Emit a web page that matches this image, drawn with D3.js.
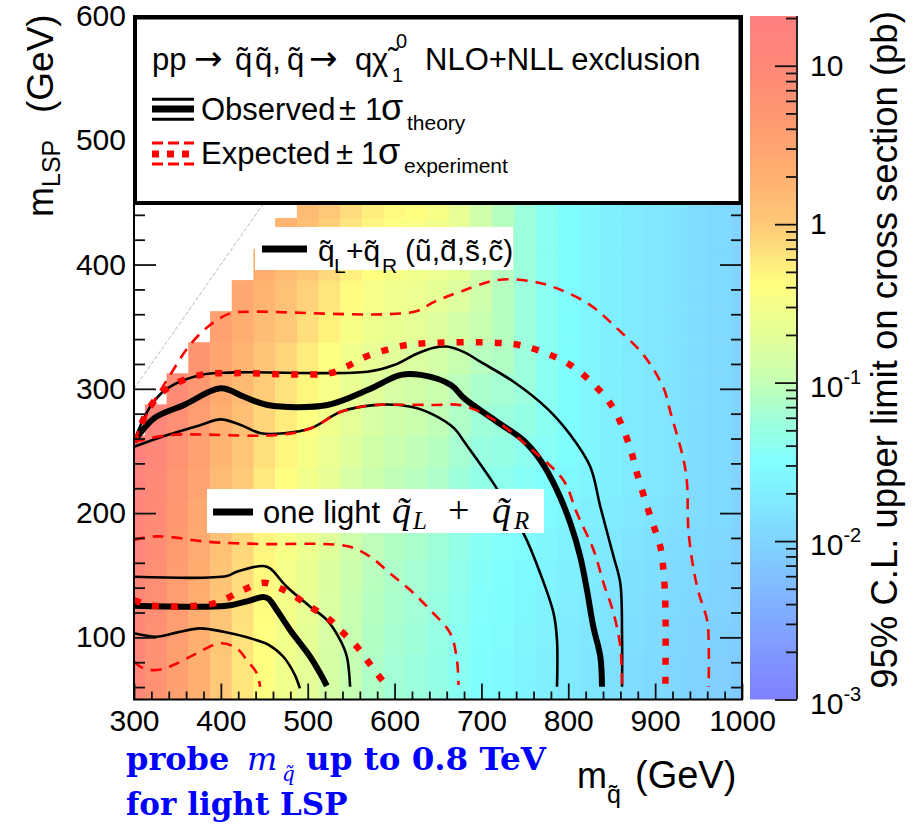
<!DOCTYPE html>
<html><head><meta charset="utf-8">
<script src="https://cdn.jsdelivr.net/npm/d3@7"></script>
<style>
body{margin:0;background:#fff;}
svg{display:block;}
</style></head><body>
<svg id="c" width="914" height="829" font-family="Liberation Sans, Arial, Helvetica, sans-serif"></svg>
<script>
// ---------------- DATA ----------------
const mSquark = [300,325,350,375,400,425,450,475,500,525,550,575,600,625,650,675,700,725,750,775,800,825,850,875,900,925,950,975,1000];
const mLSPRows = [50,75,100,125,150,175,200,225,250,275,300,325,350,375,400,425,450];
// log10 of 95% CL upper limit on cross section (pb), one row per mLSP
const log10Limit = [
 [1.0,0.8,0.55,0.3,0.0,-0.2,-0.4,-0.55,-0.7,-0.85,-1.0,-1.12,-1.2,-1.25,-1.32,-1.42,-1.52,-1.56,-1.62,-1.68,-1.74,-1.8,-1.85,-1.9,-1.94,-1.98,-2.02,-2.06,-2.1],
 [0.99,0.8,0.56,0.3,0.01,-0.2,-0.39,-0.55,-0.7,-0.84,-0.99,-1.12,-1.2,-1.26,-1.33,-1.42,-1.51,-1.56,-1.62,-1.68,-1.74,-1.8,-1.85,-1.9,-1.94,-1.98,-2.02,-2.06,-2.1],
 [1.02,0.82,0.57,0.32,0.02,-0.18,-0.38,-0.53,-0.68,-0.83,-0.98,-1.1,-1.18,-1.23,-1.3,-1.4,-1.5,-1.54,-1.6,-1.66,-1.72,-1.78,-1.83,-1.88,-1.92,-1.96,-2.0,-2.04,-2.08],
 [1.04,0.84,0.59,0.34,0.04,-0.16,-0.36,-0.51,-0.66,-0.81,-0.96,-1.08,-1.16,-1.21,-1.28,-1.38,-1.48,-1.52,-1.58,-1.64,-1.7,-1.76,-1.81,-1.86,-1.9,-1.94,-1.98,-2.02,-2.06],
 [1.06,0.86,0.61,0.36,0.06,-0.14,-0.34,-0.49,-0.64,-0.79,-0.94,-1.06,-1.14,-1.19,-1.26,-1.36,-1.46,-1.5,-1.56,-1.62,-1.68,-1.74,-1.79,-1.84,-1.88,-1.92,-1.96,-2.0,-2.04],
 [1.09,0.89,0.64,0.39,0.09,-0.11,-0.31,-0.46,-0.61,-0.76,-0.91,-1.03,-1.11,-1.16,-1.23,-1.33,-1.43,-1.47,-1.53,-1.59,-1.65,-1.71,-1.76,-1.81,-1.85,-1.89,-1.93,-1.97,-2.01],
 [1.13,0.93,0.68,0.43,0.13,-0.07,-0.27,-0.42,-0.57,-0.72,-0.87,-0.99,-1.07,-1.12,-1.19,-1.29,-1.39,-1.43,-1.49,-1.55,-1.61,-1.67,-1.72,-1.77,-1.81,-1.85,-1.89,-1.94,-2.0],
 [1.18,0.98,0.73,0.48,0.18,-0.02,-0.22,-0.37,-0.52,-0.67,-0.82,-0.94,-1.02,-1.07,-1.14,-1.24,-1.34,-1.38,-1.44,-1.5,-1.56,-1.62,-1.67,-1.73,-1.78,-1.83,-1.89,-1.94,-2.0],
 [1.24,1.04,0.79,0.54,0.24,0.04,-0.16,-0.31,-0.46,-0.61,-0.76,-0.88,-0.96,-1.01,-1.08,-1.18,-1.28,-1.32,-1.38,-1.44,-1.52,-1.6,-1.67,-1.73,-1.78,-1.83,-1.89,-1.94,-2.0],
 [null,1.1,0.85,0.6,0.3,0.1,-0.1,-0.25,-0.4,-0.55,-0.7,-0.82,-0.9,-0.95,-1.02,-1.12,-1.22,-1.26,-1.32,-1.4,-1.52,-1.6,-1.67,-1.73,-1.78,-1.83,-1.89,-1.94,-2.0],
 [null,null,0.92,0.67,0.37,0.17,-0.03,-0.18,-0.33,-0.48,-0.63,-0.75,-0.83,-0.88,-0.95,-1.05,-1.15,-1.19,-1.25,-1.4,-1.52,-1.6,-1.67,-1.73,-1.78,-1.83,-1.89,-1.94,-2.0],
 [null,null,null,0.75,0.45,0.25,0.05,-0.1,-0.25,-0.4,-0.55,-0.67,-0.75,-0.8,-0.87,-0.97,-1.07,-1.11,-1.25,-1.4,-1.52,-1.6,-1.67,-1.73,-1.78,-1.83,-1.89,-1.94,-2.0],
 [null,null,null,null,0.55,0.35,0.15,0.0,-0.15,-0.3,-0.45,-0.57,-0.65,-0.7,-0.77,-0.87,-0.97,-1.08,-1.25,-1.4,-1.52,-1.6,-1.67,-1.73,-1.78,-1.83,-1.89,-1.94,-2.0],
 [null,null,null,null,null,0.44,0.24,0.09,-0.06,-0.21,-0.36,-0.48,-0.56,-0.61,-0.68,-0.78,-0.92,-1.08,-1.25,-1.4,-1.52,-1.6,-1.67,-1.73,-1.78,-1.83,-1.89,-1.94,-2.0],
 [null,null,null,null,null,null,0.33,0.18,0.03,-0.12,-0.27,-0.39,-0.47,-0.52,-0.59,-0.69,-0.92,-1.08,-1.25,-1.4,-1.52,-1.6,-1.67,-1.73,-1.78,-1.83,-1.89,-1.94,-2.0],
 [null,null,null,null,null,null,null,0.25,0.1,-0.05,-0.2,-0.32,-0.4,-0.45,-0.52,-0.67,-0.92,-1.08,-1.25,-1.4,-1.52,-1.6,-1.67,-1.73,-1.78,-1.83,-1.89,-1.94,-2.0],
 [null,null,null,null,null,null,null,null,0.16,0.01,-0.14,-0.26,-0.34,-0.39,-0.46,-0.67,-0.92,-1.08,-1.25,-1.4,-1.52,-1.6,-1.67,-1.73,-1.78,-1.83,-1.89,-1.94,-2.0]
];

// exclusion contours [mSquark, mLSP] — q_L+q_R (u,d,s,c)
const obsQQ = [[300,257.4],[323,276.2],[357.6,287],[399.9,300.4],[426.7,293.6],[453.6,287],[522.7,287],[568.8,299],[607.3,311.2],[630.3,311.2],[664.9,303.1],[680.2,292.3],[717.9,273.5],[748,258.8],[767.7,242.7],[787,218.5],[802.3,192],[813.8,164.9],[821.5,138.1],[828.8,108.6],[836.9,84.4],[838.8,60.3]];
const obsQQUp = [[300,258],[319.2,286.2],[338.4,300.4],[376.8,311.2],[415.2,313.2],[568.8,313.7],[599.5,319.1],[625,328],[645,333],[660,334],[680,329.5],[698.6,321.8],[737,305.7],[775.5,284.3],[802.3,263],[825.3,237.3],[836.9,205.1],[852.2,164.9],[859.9,143.5],[861.9,100],[861.9,60.3]];
const obsQQDown = [[300,253.4],[338.4,262.8],[376.8,270.9],[399.9,275.4],[422.9,270.9],[446,264.2],[472.8,264.2],[503.6,268.2],[538.1,281.5],[576.5,286.9],[618.8,285.6],[645.6,278.9],[668.7,268.2],[680.2,257.4],[713.9,223.9],[748.5,183.7],[767.7,151.5],[783.1,119.3],[787,97.9],[787,60.3]];
const expQQ = [[300,258],[319.2,286.2],[338.4,300.4],[376.8,311.2],[415.2,312.6],[525.8,312.6],[545,318],[568.8,326.4],[607.3,334.3],[630.3,336.4],[721.7,336.9],[752.4,333.8],[802.3,319.2],[840.7,295],[856.1,278.9],[871.4,252.1],[879.1,232],[894.5,197.1],[906,172.9],[909.8,151.5],[911.8,124.7],[911.8,60]];
const expQQUp = [[300,258],[318.4,284.3],[341.5,311.1],[364.5,335.3],[387.6,351.4],[410.6,360.7],[429.8,362],[622.6,362],[645.6,370],[675.6,378.1],[717.9,387.5],[756.2,386.7],[787,380.8],[825.3,367.4],[856.1,348.6],[886.8,327.1],[909.8,300.4],[917.5,281.5],[932.8,242.7],[936.7,223.9],[938.6,183.7],[948.3,140.7],[959.8,114],[961.6,97.9],[961.6,60]];
const expQQDown = [[300,257.2],[341.5,262.8],[464.7,262.8],[503.6,268.2],[538.1,281.5],[576.5,286.9],[600,287.2],[641,287],[679,286.4],[717.9,273.5],[756.2,252.1],[794.2,226.6],[810,199.8],[829.1,170.3],[840.7,143.5],[852.2,119.3],[859.9,92.5],[861.9,60]];
// one light squark
const obs1 = [[300,125.4],[406.8,125.4],[430,129],[449,132.5],[455,131],[464.4,122],[479.7,105.9],[502.8,84.4],[514.3,71.1],[522,61]];
const obs1Up = [[300,148.8],[406.8,149.3],[418.3,152.8],[449,157.4],[456.7,155.5],[475.9,140.7],[502.8,124.7],[522,114],[537.3,97.9],[545.1,84.4],[548.8,60.3]];
const obs1Down = [[300,103.3],[326,100.5],[350,104],[376,107.2],[403,104.5],[430,100],[455,94],[472,84.4],[485,70],[491,59]];
const exp1 = [[300,130],[320,125.6],[390,127],[410.6,132.7],[425.9,138.1],[449,144],[464.4,140.7],[479.7,135.4],[502.8,124.7],[525.8,114],[537.3,106],[556.6,92.5],[568.1,81.8],[579.6,71.1],[587.2,64.3]];
const exp1Up = [[300,178.3],[318.4,181],[337.7,181],[383.8,177],[449,175.1],[518.1,175.1],[548.8,172.9],[571.9,164.9],[594.9,151.5],[618,138.1],[641,122],[664.1,103.3],[671.8,81.8],[673.6,61.7]];
const exp1Down = [[300,80.4],[310.7,75.1],[326.2,73.7],[345.3,77.7],[372.3,87.2],[399.1,95.2],[418.3,91.2],[429.8,81.8],[441.4,71.1],[445.2,60.3]];

const xTicks = [300,400,500,600,700,800,900,1000];
const yTicks = [100,200,300,400,500,600];
const zTicks = [0.001,0.01,0.1,1,10];
const zTickLabels = [["10","-3"],["10","-2"],["10","-1"],["1",""],["10",""]];
const paletteLog = [-3,-2.5,-2,-1.5,-1.22,-1,-0.75,-0.38,0,0.3,0.7,1.0,1.32];
const paletteCol = ["#8080ff","#80a8ff","#80d4ff","#80ffff","#a0ffd8","#c4ffb4","#e0ff9c","#ffff80","#ffc878","#ffb070","#ff9670","#ff8878","#ff8080"];

// ---------------- LAYOUT ----------------
const X0=134,X1=742,Y0=699.5,Y1=16;
const x=d3.scaleLinear().domain([300,1000]).range([X0,X1]);
const y=d3.scaleLinear().domain([50,600]).range([Y0,Y1]);
const zMax=20.6;
const z=d3.scaleLog().domain([1e-3,zMax]).range([Y0,Y1]);
const col=d3.scaleLinear().domain(paletteLog).range(paletteCol).interpolate(d3.interpolateRgb).clamp(true);
const SANS="Liberation Sans, Arial, Helvetica, sans-serif";

const svg=d3.select("#c");
const defs=svg.append("defs");
defs.append("clipPath").attr("id","plotClip").append("rect")
  .attr("x",X0).attr("y",Y1).attr("width",X1-X0).attr("height",Y0-Y1);

// heat map cells
const cells=[];
mLSPRows.forEach((m,r)=>mSquark.forEach((q,c)=>{const v=log10Limit[r][c]; if(v!==null&&v!==undefined) cells.push({q,m,v});}));
const plot=svg.append("g").attr("clip-path","url(#plotClip)");
plot.append("g").selectAll("rect").data(cells).join("rect")
  .attr("x",d=>x(d.q-12.5)).attr("y",d=>y(d.m+12.5))
  .attr("width",d=>x(d.q+12.5)-x(d.q-12.5)+0.6)
  .attr("height",d=>y(d.m-12.5)-y(d.m+12.5)+0.6)
  .attr("fill",d=>col(d.v));

// diagonal mLSP = mSquark
plot.append("line").attr("x1",x(300)).attr("y1",y(300)).attr("x2",x(600)).attr("y2",y(600))
  .attr("stroke","#b8b8b8").attr("stroke-width",1).attr("stroke-dasharray","4,2");

// contours
const line=d3.line().x(d=>x(d[0])).y(d=>y(d[1])).curve(d3.curveCatmullRom.alpha(0.5));
const styles={
  thick:{c:"#000",w:6,d:null},
  thin:{c:"#000",w:2.6,d:null},
  ethick:{c:"#ff0000",w:6.5,d:"7,12"},
  ethin:{c:"#ff0000",w:2.6,d:"11,8"}
};
function drawLine(data,st){
  const s=styles[st];
  const p=plot.append("path").attr("d",line(data)).attr("fill","none")
    .attr("stroke",s.c).attr("stroke-width",s.w).attr("stroke-linejoin","round");
  if(s.d) p.attr("stroke-dasharray",s.d);
}
[[obsQQUp,"thin"],[obsQQDown,"thin"],[obsQQ,"thick"],[obs1Up,"thin"],[obs1Down,"thin"],[obs1,"thick"]].forEach(a=>drawLine(a[0],a[1]));
[[expQQUp,"ethin"],[expQQDown,"ethin"],[expQQ,"ethick"],[exp1Up,"ethin"],[exp1Down,"ethin"],[exp1,"ethick"]].forEach(a=>drawLine(a[0],a[1]));

// axes (ticks inward)
const minorX=d3.range(300,1001,20).filter(v=>v%100!==0);
const minorY=d3.range(60,600,20).filter(v=>v%100!==0);
function styleAxis(g){g.select(".domain").remove(); g.selectAll("line").attr("stroke","#111").attr("stroke-width",1.8);}
svg.append("g").attr("transform",`translate(0,${Y0})`)
  .call(d3.axisBottom(x).tickValues(minorX).tickSize(-8).tickFormat("")).call(styleAxis);
svg.append("g").attr("transform",`translate(0,${Y0})`)
  .call(d3.axisBottom(x).tickValues(xTicks).tickSize(-16).tickPadding(10).tickFormat(d3.format("d")))
  .call(styleAxis).selectAll("text").attr("font-size",30).attr("font-family",SANS).attr("fill","#000");
svg.append("g").attr("transform",`translate(${X0},0)`)
  .call(d3.axisLeft(y).tickValues(minorY).tickSize(-11).tickFormat("")).call(styleAxis);
svg.append("g").attr("transform",`translate(${X0},0)`)
  .call(d3.axisLeft(y).tickValues(yTicks).tickSize(-22).tickPadding(8).tickFormat(d3.format("d")))
  .call(styleAxis).selectAll("text").attr("font-size",30).attr("font-family",SANS).attr("fill","#000");
svg.append("g").attr("transform",`translate(${X1},0)`)
  .call(d3.axisRight(y).tickValues(minorY).tickSize(-11).tickFormat("")).call(styleAxis);
svg.append("g").attr("transform",`translate(${X1},0)`)
  .call(d3.axisRight(y).tickValues(yTicks).tickSize(-22).tickFormat("")).call(styleAxis);

// frame
svg.append("rect").attr("x",X0).attr("y",Y1).attr("width",X1-X0).attr("height",Y0-Y1)
  .attr("fill","none").attr("stroke","#000").attr("stroke-width",2);

// text helper
function t(g,xp,yp,str,size,opt={}){
  const e=g.append("text").attr("x",xp).attr("y",yp).attr("font-size",size).attr("fill","#000").text(str);
  for(const k in opt) e.attr(k,opt[k]);
  return e;
}
const lab=svg.append("g");
lab.append("rect").attr("x",255).attr("y",227).attr("width",258).attr("height",43).attr("fill","#fff");
lab.append("line").attr("x1",262).attr("x2",307).attr("y1",249).attr("y2",249).attr("stroke","#000").attr("stroke-width",7);
t(lab,318,261,"q\u0303",30);
t(lab,334,273,"L",21);
t(lab,346,261,"+q\u0303",30);
t(lab,382,273,"R",21);
t(lab,405,261,"(u\u0303,d\u0303,s\u0303,c\u0303)",30);

lab.append("rect").attr("x",207).attr("y",489).attr("width",337).attr("height",44).attr("fill","#fff");
lab.append("line").attr("x1",213).attr("x2",253).attr("y1",512).attr("y2",512).attr("stroke","#000").attr("stroke-width",7);
t(lab,263,523,"one light",31);
const serif="Liberation Serif, Times New Roman, serif";
t(lab,392,523,"q\u0303",38,{"font-family":serif,"font-style":"italic"});
t(lab,413,529,"L",25,{"font-family":serif,"font-style":"italic"});
t(lab,448,523,"+",38,{"font-family":serif});
t(lab,492,523,"q\u0303",38,{"font-family":serif,"font-style":"italic"});
t(lab,514,529,"R",25,{"font-family":serif,"font-style":"italic"});

// legend box
const leg=svg.append("g");
leg.append("rect").attr("x",135).attr("y",17.5).attr("width",605.5).attr("height",185.5)
  .attr("fill","#fff").attr("stroke","#000").attr("stroke-width",4);
[["pp",152],["q\u0303",235],["q\u0303,",255],["q\u0303",287],["q",355],["\u03c7\u0303",372],["NLO+NLL exclusion",425]]
  .forEach(p=>t(leg,p[1],69.5,p[0],31));
t(leg,194,69.5,"\u2192",34,{"font-family":"DejaVu Sans, sans-serif"});
t(leg,309,69.5,"\u2192",34,{"font-family":"DejaVu Sans, sans-serif"});
t(leg,396,48,"0",20);
t(leg,392,82,"1",20);
// observed sample
[[99.3,3],[109,7],[119.3,3]].forEach(s=>leg.append("line").attr("x1",152).attr("x2",194).attr("y1",s[0]).attr("y2",s[0]).attr("stroke","#000").attr("stroke-width",s[1]));
t(leg,201,120,"Observed",31); t(leg,339,120,"\u00b1",31); t(leg,365,120,"1",31); t(leg,381,120,"\u03c3",36);
t(leg,407,130,"theory",21);
// expected sample
[[143,3,"11,5"],[154,7,"7,8"],[164,3,"11,5"]].forEach(s=>leg.append("line").attr("x1",152).attr("x2",194).attr("y1",s[0]).attr("y2",s[0]).attr("stroke","#ff0000").attr("stroke-width",s[1]).attr("stroke-dasharray",s[2]));
t(leg,201,164,"Expected",31); t(leg,336,164,"\u00b1",31); t(leg,361,164,"1",31); t(leg,378,164,"\u03c3",36);
t(leg,404,173,"experiment",21);

// colour bar
const grad=defs.append("linearGradient").attr("id","zgrad").attr("x1",0).attr("y1",1).attr("x2",0).attr("y2",0);
d3.range(0,101).forEach(i=>{const tt=i/100; const lv=-3+tt*(Math.log10(zMax)+3);
  grad.append("stop").attr("offset",tt).attr("stop-color",col(lv));});
svg.append("rect").attr("x",750).attr("y",Y1).attr("width",47).attr("height",Y0-Y1).attr("fill","url(#zgrad)");
const zMinor=[];
[0.001,0.01,0.1,1,10].forEach(d=>{for(let k=2;k<=9;k++){const v=d*k; if(v<=zMax) zMinor.push(v);}});
svg.append("g").attr("transform","translate(797,0)")
  .call(d3.axisRight(z).tickValues(zMinor).tickSize(-11).tickFormat("")).call(styleAxis);
const zax=svg.append("g").attr("transform","translate(797,0)")
  .call(d3.axisRight(z).tickValues(zTicks).tickSize(-22).tickPadding(13).tickFormat(""));
zax.call(styleAxis);
zax.selectAll(".tick text").each(function(d,i){
  const el=d3.select(this).attr("font-size",30).attr("font-family",SANS).attr("fill","#000");
  const lb=zTickLabels[i];
  el.text(null);
  el.append("tspan").text(lb[0]);
  if(lb[1]){ el.attr("dy","0.45em"); el.append("tspan").attr("font-size",20).attr("dy",-13).text(lb[1]); }
});
svg.append("line").attr("x1",797).attr("x2",797).attr("y1",Y1).attr("y2",Y0).attr("stroke","#222").attr("stroke-width",2);

// axis titles
const yt=svg.append("g").attr("transform","translate(53,0) rotate(-90)");
t(yt,-217,0,"m",36);
t(yt,-187,7,"LSP",25);
t(yt,-113,0,"(GeV)",37);
t(svg,577,788,"m",36);
t(svg,607,803,"q\u0303",25);
t(svg,635,788,"(GeV)",38);
const zt=svg.append("g").attr("transform","translate(897,0) rotate(-90)");
t(zt,-350,0,"95% C.L. upper limit on cross section (pb)",36.5,{"text-anchor":"middle"});

// blue annotation
const blue="#0000ff", bs="DejaVu Serif, Liberation Serif, serif";
t(svg,126,770,"probe",32,{"font-family":bs,"font-weight":"bold","fill":blue});
t(svg,247,770,"m",32,{"font-family":"DejaVu Serif, serif","font-style":"italic","fill":blue});
t(svg,282,781,"q\u0303",20,{"font-family":"DejaVu Serif, serif","font-style":"italic","fill":blue});
t(svg,306,770,"up to 0.8 TeV",32.5,{"font-family":bs,"font-weight":"bold","fill":blue});
t(svg,126,815,"for light LSP",31,{"font-family":bs,"font-weight":"bold","fill":blue});
</script>
</body></html>
